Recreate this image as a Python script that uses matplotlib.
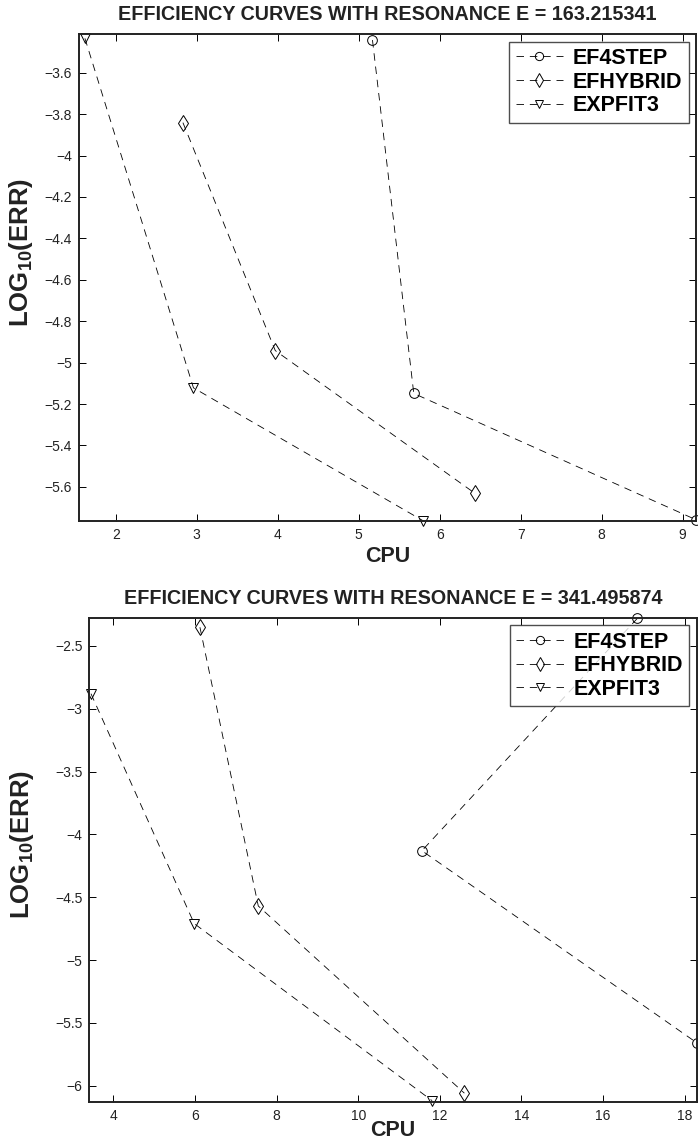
import matplotlib
matplotlib.use("Agg")
import matplotlib.pyplot as plt


# ==========================================================
# Data
# ==========================================================

series_names = ["EF4STEP", "EFHYBRID", "EXPFIT3"]
markers = ["o", "d", "v"]

# top panel, E = 163.215341
cpu_top_ef4step = [5.17, 5.68, 9.17]
err_top_ef4step = [-3.442, -5.149, -5.76]
cpu_top_efhybrid = [2.83, 3.97, 6.43]
err_top_efhybrid = [-3.841, -4.942, -5.63]
cpu_top_expfit3 = [1.62, 2.96, 5.80]
err_top_expfit3 = [-3.434, -5.122, -5.765]

# bottom panel, E = 341.495874
cpu_bot_ef4step = [16.84, 11.56, 18.30]
err_bot_ef4step = [-2.28, -4.13, -5.66]
cpu_bot_efhybrid = [6.12, 7.55, 12.60]
err_bot_efhybrid = [-2.351, -4.57, -6.06]
cpu_bot_expfit3 = [3.45, 5.98, 11.81]
err_bot_expfit3 = [-2.88, -4.71, -6.12]

top_xticks = [2, 3, 4, 5, 6, 7, 8, 9]
top_yticks = [-3.6, -3.8, -4.0, -4.2, -4.4, -4.6, -4.8, -5.0, -5.2, -5.4, -5.6]
bot_xticks = [4, 6, 8, 10, 12, 14, 16, 18]
bot_yticks = [-2.5, -3.0, -3.5, -4.0, -4.5, -5.0, -5.5, -6.0]


# ==========================================================
# Helper
# ==========================================================

FONT = ["Liberation Sans", "DejaVu Sans"]


def draw_panel(ax, title, data, xlim, ylim, xticks, yticks, yfmt,
               ylab_xy, xpad):
    for (x, y), name, m in zip(data, series_names, markers):
        ax.plot(
            x,
            y,
            linestyle=(0, (9, 7)),
            color="black",
            linewidth=0.6,
            marker=m,
            markersize=8.5 if m == "d" else 7,
            markerfacecolor="none",
            markeredgecolor="black",
            markeredgewidth=0.7,
            label=name,
            clip_on=False,
        )

    ax.set_xlim(*xlim)
    ax.set_ylim(*ylim)
    ax.set_xticks(xticks)
    ax.set_yticks(yticks)
    ax.set_xticklabels([str(t) for t in xticks])
    ax.set_yticklabels([yfmt(t).replace("-", "\u2212") for t in yticks])

    ax.tick_params(
        direction="in",
        top=True,
        right=True,
        length=5,
        width=0.7,
        labelsize=10,
        labelcolor="#222222",
        pad=5,
    )
    for lab in ax.get_xticklabels() + ax.get_yticklabels():
        lab.set_family(FONT)

    for s in ax.spines.values():
        s.set_linewidth(1.4)
        s.set_color("#222222")

    ax.set_title(
        title,
        fontsize=14.2,
        fontweight="bold",
        family=FONT,
        color="#222222",
        pad=10,
    )
    ax.set_xlabel(
        "CPU",
        fontsize=15.5,
        fontweight="bold",
        family=FONT,
        color="#222222",
        labelpad=xpad,
    )
    ax.set_ylabel(
        r"LOG$_{\mathbf{10}}$(ERR)",
        fontsize=18.5,
        fontweight="bold",
        family=FONT,
        color="#222222",
    )
    ax.yaxis.set_label_coords(*ylab_xy)

    leg = ax.legend(
        loc="upper right",
        prop=dict(family=FONT, weight="bold", size=15.5),
        frameon=True,
        fancybox=False,
        edgecolor="#222222",
        handlelength=2.2,
        handletextpad=0.45,
        borderaxespad=0.35,
        borderpad=0.3,
        labelspacing=0.12,
        markerscale=0.85,
    )
    leg.get_frame().set_linewidth(1.0)


# ==========================================================
# Figure
# ==========================================================

plt.rcParams["mathtext.fontset"] = "custom"
plt.rcParams["mathtext.bf"] = "Liberation Sans:bold"
plt.rcParams["mathtext.rm"] = "Liberation Sans:bold"

fig = plt.figure(figsize=(6.98, 11.42), dpi=100)

ax1 = fig.add_axes([0.1132, 0.5438, 0.8840, 0.4264])
ax2 = fig.add_axes([0.1280, 0.0354, 0.8705, 0.4237])

draw_panel(
    ax1,
    "EFFICIENCY CURVES WITH RESONANCE E = 163.215341",
    [
        (cpu_top_ef4step, err_top_ef4step),
        (cpu_top_efhybrid, err_top_efhybrid),
        (cpu_top_expfit3, err_top_expfit3),
    ],
    (1.547, 9.165),
    (-5.765, -3.413),
    top_xticks,
    top_yticks,
    lambda t: ("%g" % round(t, 1)),
    (-0.072, 0.552),
    3,
)

draw_panel(
    ax2,
    "EFFICIENCY CURVES WITH RESONANCE E = 341.495874",
    [
        (cpu_bot_ef4step, err_bot_ef4step),
        (cpu_bot_efhybrid, err_bot_efhybrid),
        (cpu_bot_expfit3, err_bot_expfit3),
    ],
    (3.41, 18.3),
    (-6.127, -2.275),
    bot_xticks,
    bot_yticks,
    lambda t: ("%g" % t),
    (-0.088, 0.531),
    -1.5,
)

fig.savefig("out.png", dpi=100)
